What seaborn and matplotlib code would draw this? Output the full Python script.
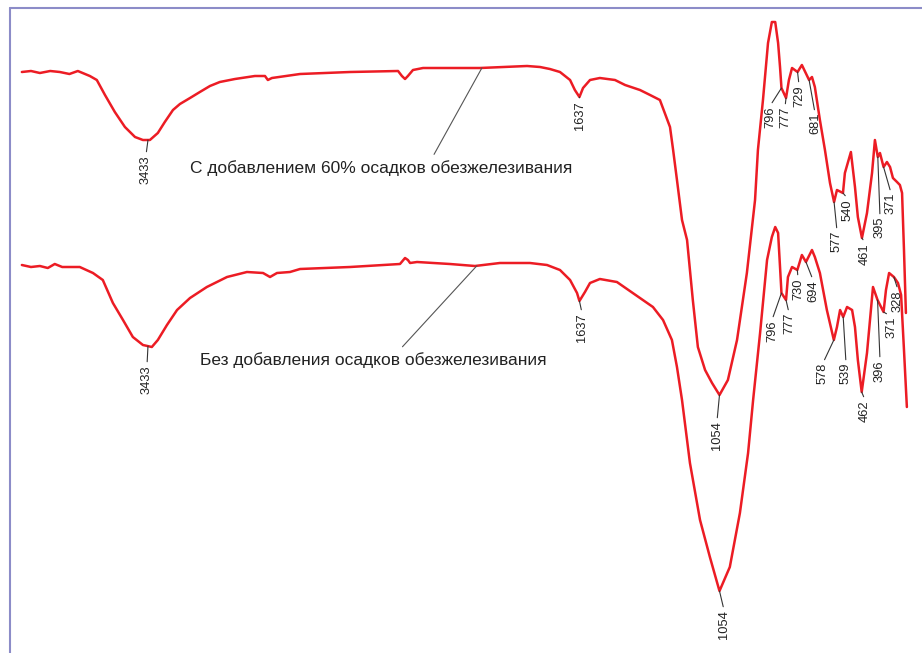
import numpy as np
import matplotlib
matplotlib.use("Agg")
import matplotlib.pyplot as plt
import seaborn as sns
from matplotlib.lines import Line2D

sns.set_theme(style="white")
plt.rcParams['font.family'] = ['Liberation Sans', 'DejaVu Sans']

# ---------------- data (wavenumber, cm-1 ; transmittance, arbitrary units) ----------------
wn_60 = [3958, 3920, 3883, 3840, 3800, 3760, 3725, 3675, 3646, 3612, 3571, 3529, 3487, 3454, 3425,
         3392, 3363, 3329, 3300, 3258, 3217, 3175, 3134, 3071, 2988, 2946, 2934, 2917, 2800, 2592,
         2392, 2376, 2363, 2351, 2330, 2288, 2051, 1855, 1801, 1760, 1718, 1676, 1656, 1637, 1622,
         1593, 1552, 1489, 1447, 1385, 1343, 1302, 1260, 1247, 1231, 1210, 1189, 1165, 1144, 1114,
         1085, 1054, 1019, 981, 940, 906, 894, 873, 852, 836, 822, 810, 802, 796, 777, 765,
         752, 729, 711, 681, 669, 657, 636, 615, 594, 577, 565, 540, 532, 507, 490, 478,
         461, 440, 419, 407, 395, 386, 371, 357, 344, 332, 315, 303, 294, 286, 278]
tr_60 = [581, 582, 580, 582, 581, 579, 582, 577, 573, 558, 541, 526, 516, 513, 513,
         520, 531, 543, 549, 555, 561, 567, 571, 574, 577, 577, 573, 575, 579, 581,
         582, 577, 574, 577, 583, 585, 585, 587, 586, 584, 581, 573, 563, 556, 565,
         573, 575, 573, 568, 563, 558, 553, 526, 503, 473, 433, 413, 353, 306, 283,
         270, 258, 273, 313, 380, 453, 503, 553, 610, 631, 631, 610, 586, 565, 555, 573,
         585, 581, 588, 573, 576, 566, 533, 503, 470, 451, 463, 460, 480, 501, 466, 436,
         415, 440, 480, 513, 496, 500, 486, 491, 486, 475, 471, 468, 460, 403, 340]

wn_0 = [3958, 3920, 3883, 3850, 3821, 3790, 3758, 3717, 3662, 3621, 3579, 3537, 3496, 3454, 3417,
        3392, 3354, 3312, 3258, 3188, 3104, 3021, 2954, 2925, 2896, 2842, 2800, 2592, 2384, 2363,
        2351, 2342, 2313, 2176, 2072, 1968, 1843, 1772, 1718, 1676, 1647, 1637, 1614, 1593, 1552,
        1481, 1385, 1331, 1289, 1252, 1231, 1210, 1177, 1135, 1094, 1054, 1011, 969, 935, 914,
        885, 856, 836, 822, 810, 802, 796, 777, 769, 752, 730, 711, 694, 669, 657, 636,
        607, 578, 565, 552, 539, 523, 502, 490, 478, 462, 440, 415, 396, 371, 361, 348,
        328, 311, 298, 286, 274]
tr_0 = [388, 386, 387, 385, 389, 386, 386, 386, 380, 373, 350, 333, 316, 308, 306,
        313, 328, 343, 355, 366, 376, 381, 380, 376, 380, 381, 384, 386, 389, 395,
        393, 390, 391, 389, 387, 390, 390, 388, 383, 373, 360, 352, 361, 370, 374,
        371, 355, 346, 333, 313, 286, 253, 190, 133, 96, 62, 86, 140, 200, 253,
        320, 393, 416, 426, 420, 386, 360, 353, 376, 386, 383, 398, 391, 403, 396, 380,
        343, 313, 326, 343, 336, 346, 343, 326, 293, 261, 300, 366, 353, 341, 363, 380,
        376, 370, 358, 303, 246]

# peak labels (wavenumbers as printed)
peaks_60 = ["3433", "1637", "1054", "796", "777", "729", "681", "577", "540", "461", "395", "371"]
peaks_0 = ["3433", "1637", "1054", "796", "777", "730", "694", "578", "539", "462", "396", "371", "328"]

caption_60 = "С добавлением 60% осадков обезжелезивания"
caption_0 = "Без добавления осадков обезжелезивания"

# ---------------- layout (label top-centre positions in figure pixels from top-left) ----------------
W, H = 922, 653
lab_pos_60 = [(146, 155), (580, 101), (717, 421), (770, 106), (785, 107), (799, 85), (815, 113),
              (837, 231), (848, 199), (865, 243), (880, 217), (891, 193)]
lab_pos_0 = [(147, 365), (582, 313), (724, 610), (772, 320), (789, 313), (798, 278), (813, 280),
             (823, 363), (846, 363), (865, 400), (880, 360), (892, 317), (898, 290)]

RED = '#ec1c24'
fig = plt.figure(figsize=(W / 100, H / 100), dpi=100)
ax = fig.add_axes([0, 0, 1, 1])

sns.lineplot(x=wn_60, y=tr_60, ax=ax, color=RED, lw=1.8, estimator=None)
sns.lineplot(x=wn_0, y=tr_0, ax=ax, color=RED, lw=1.8, estimator=None)

ax.set_xlim(4049, 211)
ax.set_ylim(0, H)
ax.axis('off')


def curve_val(wns, trs, w):
    order = np.argsort(wns)
    return np.interp(w, np.asarray(wns)[order], np.asarray(trs)[order])


def label_peaks(wns, trs, labels, positions):
    for lab, (lx, ly) in zip(labels, positions):
        w = float(lab)
        y = curve_val(wns, trs, w)
        ax.annotate(lab, xy=(w, y), xytext=(lx, H - ly), textcoords='figure pixels',
                    rotation=90, ha='center', va='top', fontsize=9.3, color='#222222',
                    arrowprops=dict(arrowstyle='-', color='#333333', lw=0.8,
                                    shrinkA=0, shrinkB=0, relpos=(0.5, 1.0)))


label_peaks(wn_60, tr_60, peaks_60, lab_pos_60)
label_peaks(wn_0, tr_0, peaks_0, lab_pos_0)

# captions with leader lines
for cap, wns, trs, w, (tx, ty), rx in [
        (caption_60, wn_60, tr_60, 2043, (190, 168), 0.63),
        (caption_0, wn_0, tr_0, 2064, (200, 360), 0.57)]:
    y = curve_val(wns, trs, w)
    ax.annotate(cap, xy=(w, y), xytext=(tx, H - ty), textcoords='figure pixels',
                ha='left', va='center', fontsize=12.5, color='#222222',
                arrowprops=dict(arrowstyle='-', color='#555555', lw=0.8,
                                shrinkA=2, shrinkB=0, relpos=(rx, 1.0)))

# frame lines (top and left)
fx = 10 / W
fy = 1 - 8 / H
fig.add_artist(Line2D([fx, 1], [fy, fy], transform=fig.transFigure, color='#8c8cc8', lw=1.5))
fig.add_artist(Line2D([fx, fx], [0, fy], transform=fig.transFigure, color='#8c8cc8', lw=1.5))

fig.savefig("out.png", dpi=100)
